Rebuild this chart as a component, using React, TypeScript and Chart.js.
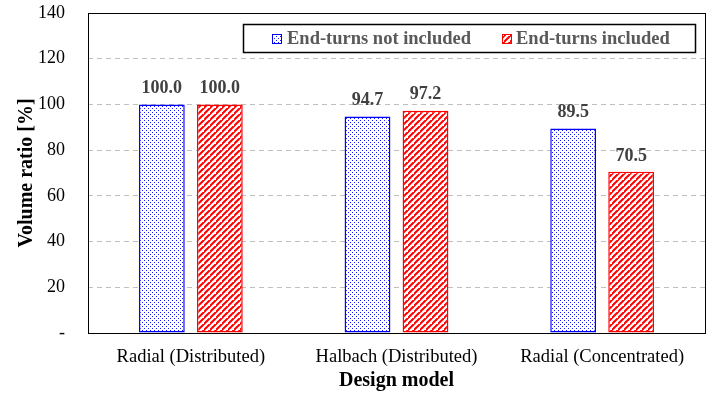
import React, { useEffect, useRef } from "react";
import { Chart, registerables } from "chart.js";

Chart.register(...registerables);

const categories = ["Radial (Distributed)", "Halbach (Distributed)", "Radial (Concentrated)"];
const seriesNames = ["End-turns not included", "End-turns included"];
const notIncluded = [100.0, 94.7, 89.5];
const included = [100.0, 97.2, 70.5];
const yTicks = [0, 20, 40, 60, 80, 100, 120, 140];

const FONT = "'Liberation Serif', 'Times New Roman', serif";

function dotPattern(): CanvasPattern | string {
  const c = document.createElement("canvas");
  c.width = 4;
  c.height = 4;
  const g = c.getContext("2d")!;
  g.fillStyle = "#ffffff";
  g.fillRect(0, 0, 4, 4);
  g.fillStyle = "#1a1aff";
  g.fillRect(0, 0, 1, 1);
  g.fillRect(2, 2, 1, 1);
  return g.createPattern(c, "repeat") || "#fff";
}

function hatchPattern(): CanvasPattern | string {
  const s = 6;
  const c = document.createElement("canvas");
  c.width = s;
  c.height = s;
  const g = c.getContext("2d")!;
  g.fillStyle = "#ffffff";
  g.fillRect(0, 0, s, s);
  g.strokeStyle = "#ff0000";
  g.lineWidth = 2;
  g.beginPath();
  g.moveTo(-1, s + 1);
  g.lineTo(s + 1, -1);
  g.moveTo(-1 - s, s + 1);
  g.lineTo(1, -1);
  g.moveTo(s - 1, 2 * s + 1);
  g.lineTo(2 * s + 1, s - 1);
  g.stroke();
  return g.createPattern(c, "repeat") || "#fff";
}

export default function App() {
  const ref = useRef<HTMLCanvasElement>(null);
  useEffect(() => {
    const dots = dotPattern();
    const hatch = hatchPattern();

    const framePlugin = {
      id: "frame",
      beforeDatasetsDraw(chart: any) {
        const { ctx, chartArea: a } = chart;
        ctx.save();
        ctx.strokeStyle = "#000";
        ctx.lineWidth = 1;
        ctx.strokeRect(Math.round(a.left) + 0.5, Math.round(a.top) + 0.5, Math.round(a.right - a.left), Math.round(a.bottom - a.top));
        ctx.restore();
      },
      afterDatasetsDraw(chart: any) {
        const { ctx } = chart;
        ctx.save();
        ctx.font = `bold 18px ${FONT}`;
        ctx.fillStyle = "#404040";
        ctx.textAlign = "center";
        ctx.textBaseline = "bottom";
        chart.data.datasets.forEach((ds: any, i: number) => {
          const meta = chart.getDatasetMeta(i);
          meta.data.forEach((bar: any, j: number) => {
            ctx.fillText(Number(ds.data[j]).toFixed(1), bar.x, bar.y - 7);
          });
        });
        // legend
        const lx = 243, ly = 24, lw = 452, lh = 28;
        ctx.fillStyle = "#fff";
        ctx.fillRect(lx, ly, lw, lh);
        ctx.strokeStyle = "#000";
        ctx.lineWidth = 1.5;
        ctx.strokeRect(lx + 0.5, ly + 0.5, lw, lh);
        const items = [
          { x: 272, fill: dots, stroke: "#0000ff", text: seriesNames[0], tx: 287 },
          { x: 502, fill: hatch, stroke: "#ff0000", text: seriesNames[1], tx: 516 },
        ];
        ctx.font = `bold 18.5px ${FONT}`;
        ctx.textAlign = "left";
        ctx.textBaseline = "middle";
        items.forEach((it) => {
          ctx.fillStyle = it.fill as any;
          ctx.fillRect(it.x, 34, 9, 9);
          ctx.strokeStyle = it.stroke;
          ctx.lineWidth = 1;
          ctx.strokeRect(it.x + 0.5, 34.5, 9, 9);
          ctx.fillStyle = "#595959";
          ctx.fillText(it.text, it.tx, 39);
        });
        ctx.restore();
      },
    };

    const chart = new Chart(ref.current!, {
      type: "bar",
      data: {
        labels: categories,
        datasets: [
          {
            label: seriesNames[0],
            data: notIncluded,
            backgroundColor: dots as any,
            borderColor: "#0000ff",
            borderWidth: 1.5,
            borderSkipped: false,
            categoryPercentage: 0.564,
            barPercentage: 0.79,
          },
          {
            label: seriesNames[1],
            data: included,
            backgroundColor: hatch as any,
            borderColor: "#ff0000",
            borderWidth: 1.5,
            borderSkipped: false,
            categoryPercentage: 0.564,
            barPercentage: 0.79,
          },
        ],
      },
      options: {
        animation: false,
        responsive: false,
        maintainAspectRatio: false,
        layout: { padding: { top: 13, right: 12, left: 0, bottom: 0 } },
        plugins: { legend: { display: false }, tooltip: { enabled: false } },
        scales: {
          x: {
            grid: { display: false, drawTicks: false },
            border: { display: false },
            ticks: { color: "#000", font: { family: FONT, size: 18.5 }, padding: 13 },
            title: {
              display: true,
              text: "Design model",
              color: "#000",
              font: { family: FONT, size: 20, weight: "bold" },
              padding: { top: 0, bottom: 4 },
            },
            afterFit: (s: any) => {
              s.height = 64;
              s.paddingLeft = 0;
              s.paddingRight = 0;
            },
          },
          y: {
            min: 0,
            max: 140,
            afterBuildTicks: (s: any) => {
              s.ticks = yTicks.map((v) => ({ value: v }));
            },
            grid: {
              color: (c: any) => (c.tick && (c.tick.value === 0 || c.tick.value === 140) ? "rgba(0,0,0,0)" : "#bfbfbf"),
              drawTicks: false,
              lineWidth: 1,
            },
            border: { display: false, dash: [5, 4] },
            ticks: {
              color: "#000",
              font: { family: FONT, size: 18 },
              padding: 23,
              callback: (v: any) => (v === 0 ? "-" : String(v)),
            },
            title: {
              display: true,
              text: "Volume ratio [%]",
              color: "#000",
              font: { family: FONT, size: 20, weight: "bold" },
              padding: { top: 15, bottom: 0 },
            },
            afterFit: (s: any) => {
              s.width = 88;
              s.paddingTop = 0;
              s.paddingBottom = 0;
            },
          },
        },
      },
      plugins: [framePlugin],
    } as any);
    return () => chart.destroy();
  }, []);
  return (
    <div style={{ position: "fixed", left: 0, top: 0, width: 717, height: 397, background: "#fff" }}>
      <canvas ref={ref} width={717} height={397} style={{ width: 717, height: 397 }} />
    </div>
  );
}
